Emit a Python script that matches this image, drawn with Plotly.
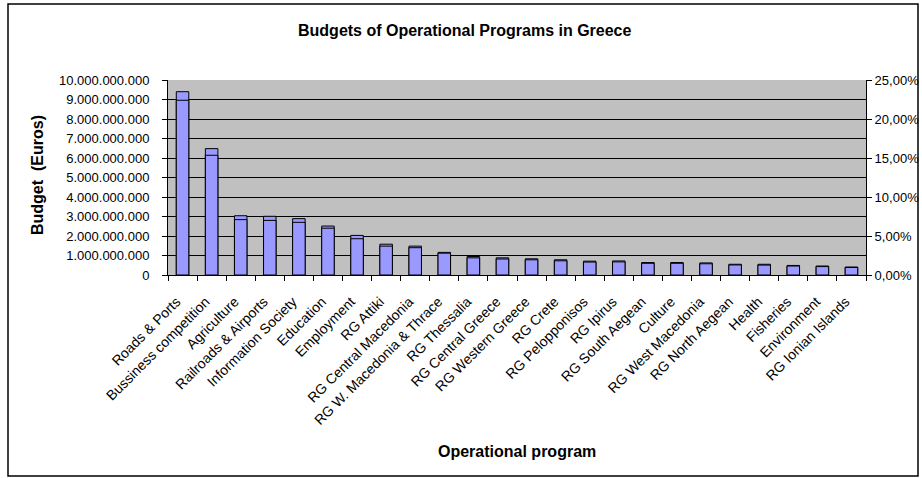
import plotly.graph_objects as go

categories = ["Roads & Ports", "Bussiness competition", "Agriculture", "Railroads & Airports",
              "Information Society", "Education", "Employment", "RG Attiki",
              "RG Central Macedonia", "RG W. Macedonia & Thrace", "RG Thessalia",
              "RG Central Greece", "RG Western Greece", "RG Crete", "RG Pelopponisos",
              "RG Ipirus", "RG South Aegean", "Culture", "RG West Macedonia",
              "RG North Aegean", "Health", "Fisheries", "Environment", "RG Ionian Islands"]

budget_euros = [9.40e9, 6.48e9, 3.04e9, 3.01e9, 2.89e9, 2.51e9, 2.03e9, 1.58e9,
                1.48e9, 1.16e9, 0.95e9, 0.88e9, 0.83e9, 0.78e9, 0.71e9, 0.72e9,
                0.64e9, 0.64e9, 0.62e9, 0.55e9, 0.55e9, 0.49e9, 0.46e9, 0.41e9]

share_pct = [0.224, 0.1535, 0.071, 0.070, 0.0675, 0.060, 0.0465, 0.037,
             0.035, 0.028, 0.022, 0.0205, 0.0195, 0.0182, 0.0166, 0.0168,
             0.015, 0.015, 0.0144, 0.0129, 0.0127, 0.0115, 0.0108, 0.0096]

left_ticks = [i * 1e9 for i in range(11)]
right_ticks = [0, 0.05, 0.10, 0.15, 0.20, 0.25]

W, H = 922, 478
L, R, T, B = 168, 56, 80, 203
pw, ph = W - L - R, H - T - B

def px_x(x):
    return (x - L) / pw

def px_y(y):
    return (H - B - y) / ph

FONT = "Liberation Sans, Arial, sans-serif"
BAR = "#9999FF"

fig = go.Figure()
fig.add_trace(go.Bar(x=categories, y=budget_euros, width=0.43,
                     marker=dict(color=BAR, line=dict(color="#000000", width=1)),
                     name="Budget", yaxis="y"))
fig.add_trace(go.Bar(x=categories, y=share_pct, width=0.43,
                     marker=dict(color=BAR, line=dict(color="#000000", width=1)),
                     name="Share", yaxis="y2"))

fig.update_layout(
    width=W, height=H,
    margin=dict(l=L, r=R, t=T, b=B, autoexpand=False),
    paper_bgcolor="white",
    plot_bgcolor="#C0C0C0",
    barmode="overlay",
    showlegend=False,
    separators=",.",
    font=dict(family=FONT, size=13, color="#000000"),
    xaxis=dict(type="category", showgrid=False, showline=True, linecolor="#000000",
               linewidth=1, ticks="outside", ticklen=5, tickcolor="#000000",
               tickson="boundaries", tickangle=-45, tickfont=dict(size=14),
               ticklabelstandoff=12, ticklabelshift=-6,
               range=[-0.5, len(categories) - 0.5]),
    yaxis=dict(range=[0, 1e10], tickvals=left_ticks, tickformat=",d",
               showgrid=True, gridcolor="#000000", gridwidth=1,
               showline=True, linecolor="#000000", linewidth=1,
               ticks="outside", ticklen=5, tickcolor="#000000",
               ticklabelstandoff=10,
               zeroline=False, tickfont=dict(size=13)),
    yaxis2=dict(range=[0, 0.25], tickvals=right_ticks, tickformat=".2%",
                overlaying="y", side="right", showgrid=False,
                showline=True, linecolor="#000000", linewidth=1,
                ticks="outside", ticklen=5, tickcolor="#000000",
                zeroline=False, tickfont=dict(size=13)),
    annotations=[
        dict(text="<b>Budgets of Operational Programs in Greece</b>", xref="paper", yref="paper",
             x=px_x(465), y=px_y(30), showarrow=False, font=dict(size=16),
             xanchor="center", yanchor="middle"),
        dict(text="<b>Budget  (Euros)</b>", xref="paper", yref="paper",
             x=px_x(37), y=px_y(175), showarrow=False, font=dict(size=16),
             textangle=-90, xanchor="center", yanchor="middle"),
        dict(text="<b>Operational program</b>", xref="paper", yref="paper",
             x=px_x(517), y=px_y(451), showarrow=False, font=dict(size=16),
             xanchor="center", yanchor="middle"),
    ],
    shapes=[
        dict(type="rect", xref="paper", yref="paper",
             x0=px_x(8), x1=px_x(918), y0=px_y(4), y1=px_y(476),
             line=dict(color="#000000", width=1.5), fillcolor="rgba(0,0,0,0)", layer="below"),
    ],
)

fig.write_html("out.html")
